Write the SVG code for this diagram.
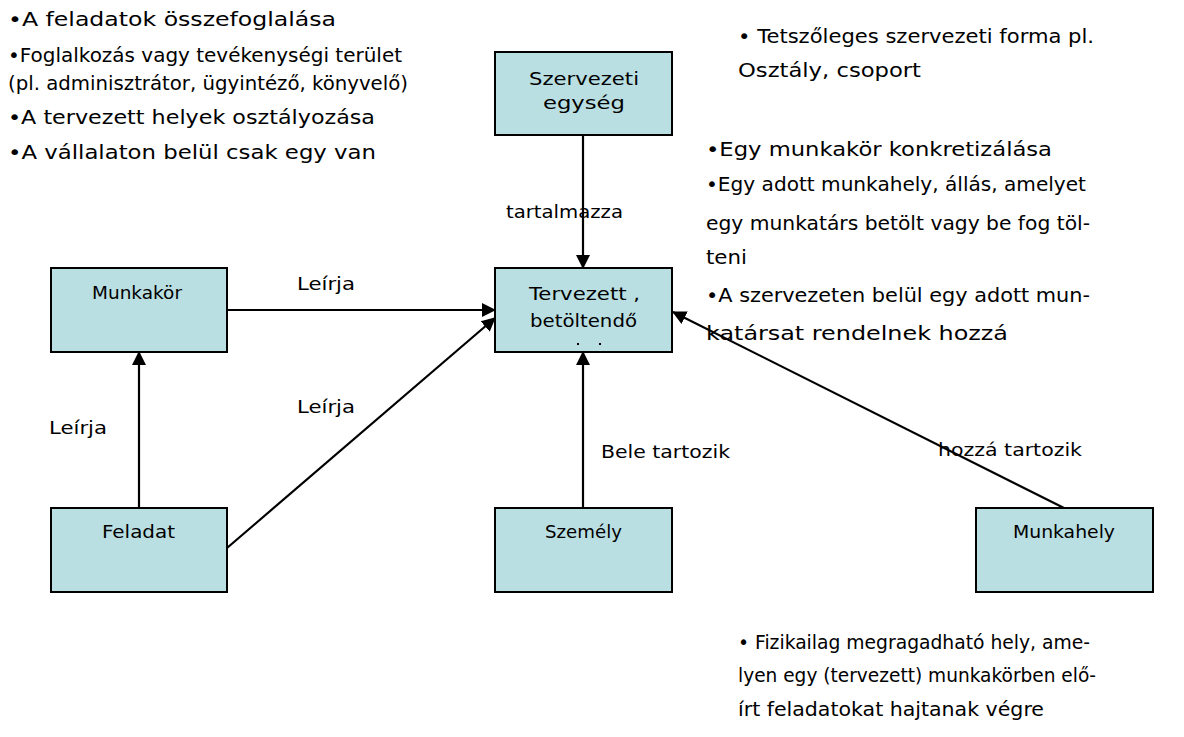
<svg xmlns="http://www.w3.org/2000/svg" width="1184" height="737" viewBox="0 0 1184 737">
<style>
.box{fill:#B9DFE2;stroke:#000;stroke-width:2}
.nl{font-family:"DejaVu Sans","Liberation Sans",sans-serif;font-size:17px;fill:#000}
.el{font-family:"DejaVu Sans","Liberation Sans",sans-serif;font-size:17px;fill:#000}
.tx{font-family:"DejaVu Sans","Liberation Sans",sans-serif;font-size:20px;fill:#000}
.cn{stroke:#000;stroke-width:2.2;fill:none}
</style>
<defs>
<marker id="ah" markerUnits="userSpaceOnUse" markerWidth="14" markerHeight="16" viewBox="0 0 14 16" refX="13" refY="8" orient="auto">
<path d="M0,1 L14,8 L0,15 Z" fill="#000"/>
</marker>
</defs>
<rect width="1184" height="737" fill="#fff"/>
<g id="connectors">
<line class="cn" x1="583" y1="135" x2="583" y2="268" marker-end="url(#ah)"/>
<line class="cn" x1="227" y1="310" x2="495" y2="310" marker-end="url(#ah)"/>
<line class="cn" x1="139" y1="508" x2="139" y2="352" marker-end="url(#ah)"/>
<line class="cn" x1="227" y1="548" x2="495" y2="318" marker-end="url(#ah)"/>
<line class="cn" x1="583" y1="508" x2="583" y2="352" marker-end="url(#ah)"/>
<line class="cn" x1="1064" y1="508" x2="673" y2="312" marker-end="url(#ah)"/>
<text class="el" x="506" y="218" textLength="117" lengthAdjust="spacingAndGlyphs">tartalmazza</text>
<text class="el" x="297" y="290" textLength="58" lengthAdjust="spacingAndGlyphs">Leírja</text>
<text class="el" x="297" y="413" textLength="58" lengthAdjust="spacingAndGlyphs">Leírja</text>
<text class="el" x="49" y="434" textLength="58" lengthAdjust="spacingAndGlyphs">Leírja</text>
<text class="el" x="601" y="458" textLength="129" lengthAdjust="spacingAndGlyphs">Bele tartozik</text>
<text class="el" x="938" y="456" textLength="144" lengthAdjust="spacingAndGlyphs">hozzá tartozik</text>
</g>
<g id="szervezeti">
<rect class="box" x="495" y="52" width="177" height="83"/>
<text class="nl" x="529" y="85" textLength="110" lengthAdjust="spacingAndGlyphs">Szervezeti</text>
<text class="nl" x="543" y="109" textLength="82" lengthAdjust="spacingAndGlyphs">egység</text>
</g>
<g id="tervezett">
<rect class="box" x="495" y="268" width="177" height="84"/>
<text class="nl" x="529" y="300" textLength="111" lengthAdjust="spacingAndGlyphs">Tervezett ,</text>
<text class="nl" x="530" y="327" textLength="107" lengthAdjust="spacingAndGlyphs">betöltendő</text>
<rect x="577" y="343" width="2" height="2" fill="#000"/>
<rect x="599" y="343" width="2" height="2" fill="#000"/>
</g>
<g id="munkakor">
<rect class="box" x="51" y="268" width="176" height="84"/>
<text class="nl" x="92" y="299" textLength="90" lengthAdjust="spacingAndGlyphs">Munkakör</text>
</g>
<g id="feladat">
<rect class="box" x="51" y="508" width="176" height="84"/>
<text class="nl" x="102" y="538" textLength="73" lengthAdjust="spacingAndGlyphs">Feladat</text>
</g>
<g id="szemely">
<rect class="box" x="495" y="508" width="177" height="84"/>
<text class="nl" x="545" y="538" textLength="77" lengthAdjust="spacingAndGlyphs">Személy</text>
</g>
<g id="munkahely">
<rect class="box" x="976" y="508" width="177" height="84"/>
<text class="nl" x="1013" y="538" textLength="102" lengthAdjust="spacingAndGlyphs">Munkahely</text>
</g>
<g id="notes-left">
<text class="tx" x="8" y="26" textLength="328" lengthAdjust="spacingAndGlyphs">•A feladatok összefoglalása</text>
<text class="tx" x="8" y="62" textLength="394" lengthAdjust="spacingAndGlyphs">•Foglalkozás vagy tevékenységi terület</text>
<text class="tx" x="8" y="90" textLength="400" lengthAdjust="spacingAndGlyphs">(pl. adminisztrátor, ügyintéző, könyvelő)</text>
<text class="tx" x="8" y="124" textLength="367" lengthAdjust="spacingAndGlyphs">•A tervezett helyek osztályozása</text>
<text class="tx" x="8" y="159" textLength="368" lengthAdjust="spacingAndGlyphs">•A vállalaton belül csak egy van</text>
</g>
<g id="notes-right">
<text class="tx" x="738" y="43" textLength="356" lengthAdjust="spacingAndGlyphs">• Tetszőleges szervezeti forma pl.</text>
<text class="tx" x="738" y="77" textLength="183" lengthAdjust="spacingAndGlyphs">Osztály, csoport</text>
<text class="tx" x="706" y="156" textLength="346" lengthAdjust="spacingAndGlyphs">•Egy munkakör konkretizálása</text>
<text class="tx" x="706" y="191" textLength="380" lengthAdjust="spacingAndGlyphs">•Egy adott munkahely, állás, amelyet</text>
<text class="tx" x="706" y="230" textLength="384" lengthAdjust="spacingAndGlyphs">egy munkatárs betölt vagy be fog töl-</text>
<text class="tx" x="706" y="264" textLength="41" lengthAdjust="spacingAndGlyphs">teni</text>
<text class="tx" x="706" y="302" textLength="384" lengthAdjust="spacingAndGlyphs">•A szervezeten belül egy adott mun-</text>
<text class="tx" x="706" y="340" textLength="302" lengthAdjust="spacingAndGlyphs">katársat rendelnek hozzá</text>
</g>
<g id="notes-bottom">
<text class="tx" x="738" y="649" textLength="352" lengthAdjust="spacingAndGlyphs">• Fizikailag megragadható hely, ame-</text>
<text class="tx" x="738" y="682" textLength="358" lengthAdjust="spacingAndGlyphs">lyen egy (tervezett) munkakörben elő-</text>
<text class="tx" x="738" y="716" textLength="306" lengthAdjust="spacingAndGlyphs">írt feladatokat hajtanak végre</text>
</g>
</svg>
